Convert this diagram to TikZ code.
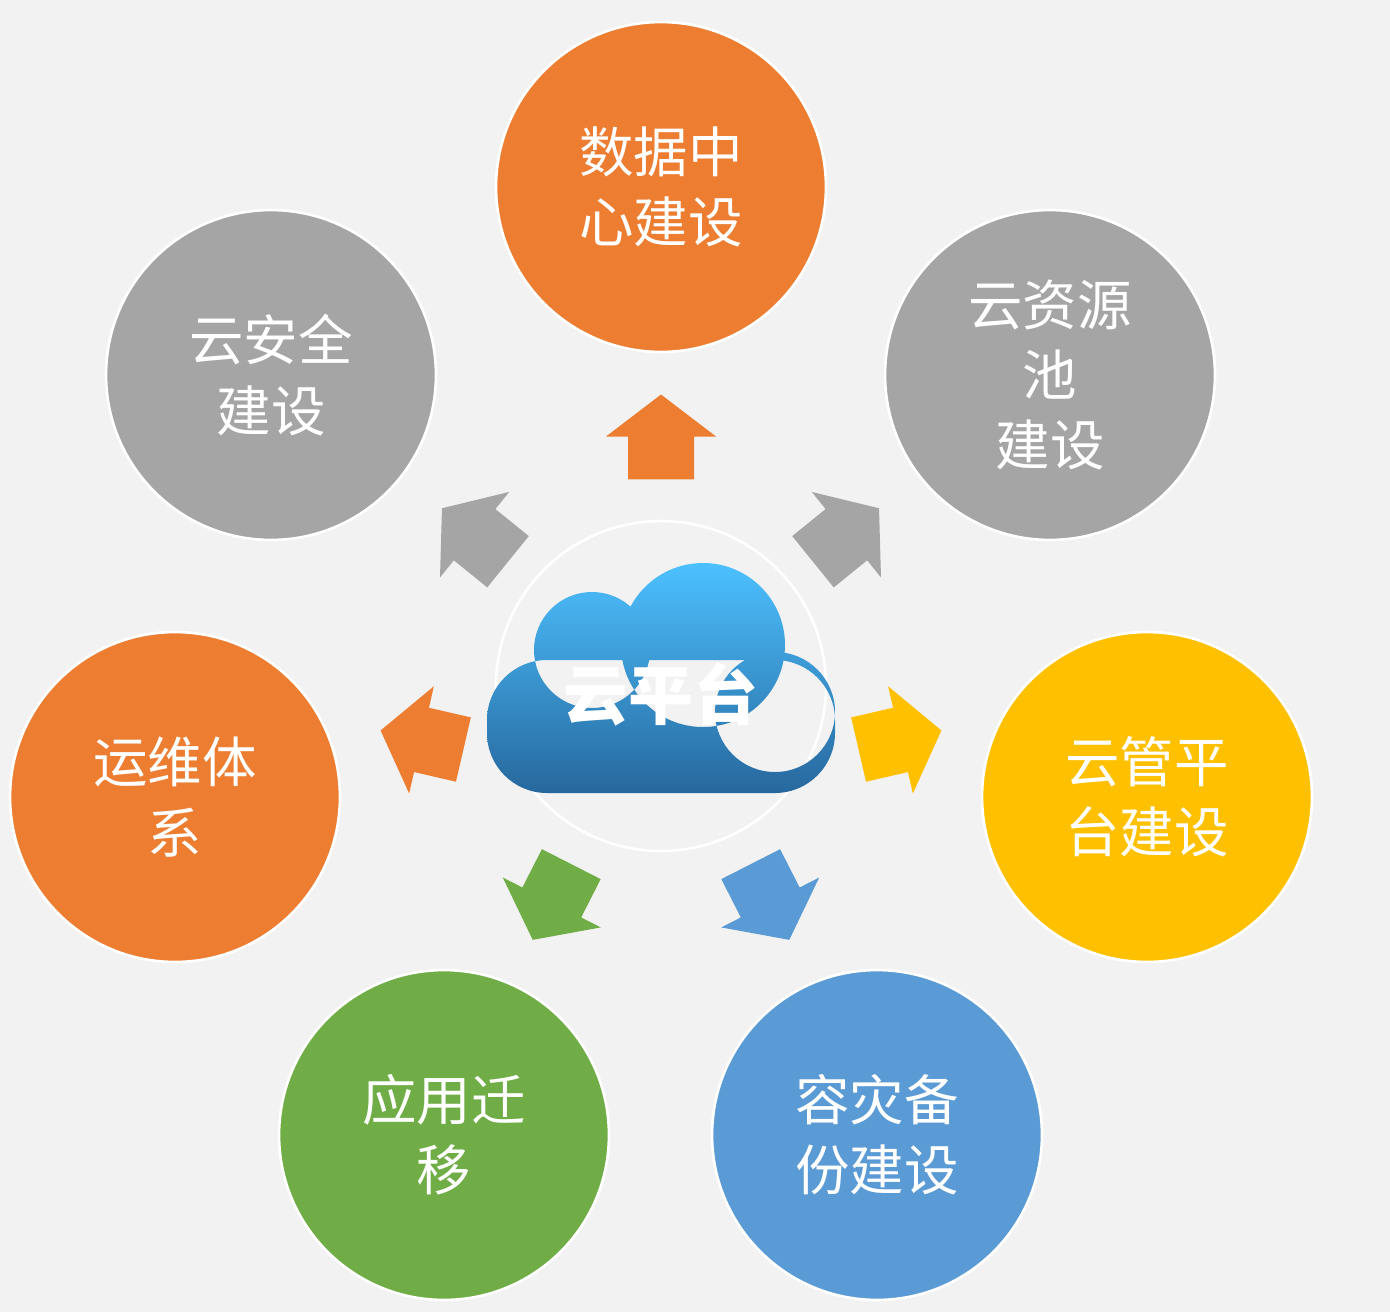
\documentclass[tikz,border=0pt]{standalone}
\usepackage{fontspec}
\setmainfont{Noto Sans CJK SC}
\usetikzlibrary{positioning}
\definecolor{bgc}{HTML}{F2F2F2}
\definecolor{orangec}{HTML}{ED7D31}
\definecolor{grayc}{HTML}{A5A5A5}
\definecolor{yellowc}{HTML}{FFC000}
\definecolor{greenc}{HTML}{70AD47}
\definecolor{bluec}{HTML}{5B9BD5}
\begin{document}
\begin{tikzpicture}
		[
		x=0.02cm, y=-0.02cm,
		font=\fontsize{31}{40}\selectfont,
		% block arrow pointing along +x
		blockarrow/.pic={
			\fill (-0.85cm,-0.66cm) -- (0.01cm,-0.66cm) -- (0.01cm,-1.1cm) -- (0.85cm,0cm)
			-- (0.01cm,1.1cm) -- (0.01cm,0.66cm) -- (-0.85cm,0.66cm) -- cycle;
		}
		]
		% Node styles
		\tikzstyle{task node}=[circle,draw=white,line width=1.5pt,minimum size=6.6cm,
			text=white,align=center,inner sep=0pt];
		
		\fill[bgc](0,0)rectangle(1390,1312);
		\useasboundingbox(0,0)rectangle(1390,1312);
		
		% Center ring
		\node(hub)[circle,draw=white,line width=1.5pt,minimum size=6.6cm]at(661,686){};
		
		% Cloud
		\shade[top color=blue!35!cyan!70!white, bottom color=blue!45!cyan!55!black!85]
			(592,650)circle[radius=58]
			(703,645)circle[radius=82]
			(775,712)circle[radius=60]
			[rounded corners=1.2cm](487,660)rectangle(835,793);
		\node(cloud)[text=white,font=\fontsize{37}{40}\selectfont\bfseries]at(661,694){云平台};
		
		% Outer circles
		\node(dc)[task node,fill=orangec]at(661,187){数据中\\心建设};
		\node(sec)[task node,fill=grayc]at(271,375){云安全\\建设};
		\node(pool)[task node,fill=grayc]at(1050,375){云资源\\池\\建设};
		\node(ops)[task node,fill=orangec]at(175,797){运维体\\系};
		\node(mgmt)[task node,fill=yellowc]at(1147,797){云管平\\台建设};
		\node(mig)[task node,fill=greenc]at(444,1135){应用迁\\移};
		\node(dr)[task node,fill=bluec]at(877,1135){容灾备\\份建设};
		
		% Arrows
		\pic[orangec,rotate=90]at(661,437){blockarrow};
		\pic[grayc,rotate=141]at(475,535){blockarrow};
		\pic[grayc,rotate=39]at(846,535){blockarrow};
		\pic[orangec,rotate=167]at(422,740){blockarrow};
		\pic[yellowc,rotate=13]at(900,740){blockarrow};
		\pic[greenc,rotate=243]at(552,902){blockarrow};
		\pic[bluec,rotate=297]at(770,902){blockarrow};
		
		\end{tikzpicture}
\end{document}
